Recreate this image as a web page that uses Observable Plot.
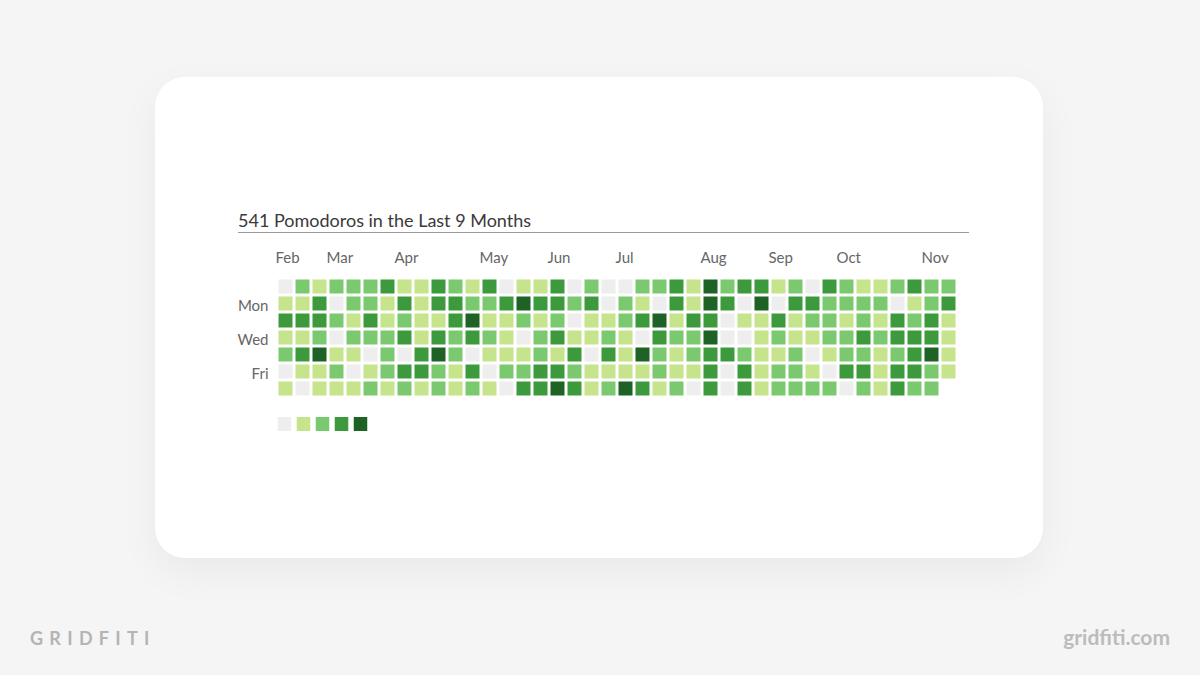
<!DOCTYPE html>
<html>
<head>
<meta charset="utf-8">
<script src="https://cdn.jsdelivr.net/npm/d3@7"></script>
<script src="https://cdn.jsdelivr.net/npm/@observablehq/plot@0.6"></script>
<style>
  html, body { margin: 0; padding: 0; width: 1200px; height: 675px; background: #f5f5f5; overflow: hidden; font-family: Lato, "Open Sans", sans-serif; }
  #card { position: absolute; left: 155px; top: 77px; width: 888px; height: 481px; background: #fff; border-radius: 30px; box-shadow: 0 14px 40px rgba(0,0,0,0.05); }
  #title { position: absolute; left: 238px; top: 211px; font-size: 18px; line-height: 1; color: #3a3a3a; white-space: nowrap; }
  #rule { position: absolute; left: 238px; top: 232px; width: 731px; height: 1px; background: #9a9a9a; }
  #chart { position: absolute; left: 200px; top: 240px; }
  #legend { position: absolute; left: 250px; top: 410px; }
  #brand { position: absolute; left: 30px; top: 629px; font-size: 18px; line-height: 1; font-weight: 700; letter-spacing: 6.3px; color: #b4b4b4; }
  #site { position: absolute; right: 30px; top: 626px; font-size: 21px; line-height: 1; font-weight: 700; color: #bcbcbc; }
</style>
</head>
<body>
<div id="card"></div>
<div id="title">541 Pomodoros in the Last 9 Months</div>
<div id="rule"></div>
<div id="chart"></div>
<div id="legend"></div>
<div id="brand">GRIDFITI</div>
<div id="site">gridfiti.com</div>
<script>
// Activity level (0–4) per week column, rows Sun..Sat
const weekLevels = [
  [0,1,3,1,2,0,1],
  [2,1,3,1,3,1,0],
  [1,3,3,2,4,1,1],
  [2,0,2,0,1,2,1],
  [2,2,1,2,1,0,1],
  [2,2,3,2,0,1,2],
  [3,1,1,2,2,2,1],
  [1,3,2,3,0,3,2],
  [1,1,1,1,3,3,1],
  [3,3,1,3,4,2,2],
  [2,3,3,2,2,1,1],
  [1,2,4,3,0,3,2],
  [3,2,1,2,1,0,1],
  [0,3,1,1,1,2,0],
  [1,4,2,0,1,2,3],
  [1,3,1,2,2,3,3],
  [3,3,2,3,1,3,4],
  [0,2,0,1,3,2,3],
  [2,3,1,1,0,1,1],
  [0,0,1,2,3,1,2],
  [0,2,2,1,1,1,4],
  [2,1,3,0,4,1,3],
  [2,0,4,3,2,2,1],
  [3,3,1,2,1,1,2],
  [1,1,3,2,2,1,0],
  [4,4,3,4,3,3,3],
  [2,3,0,0,3,0,0],
  [3,0,1,0,2,3,3],
  [3,4,1,1,1,1,1],
  [1,0,3,2,1,2,2],
  [2,3,1,1,2,2,2],
  [0,3,2,1,0,1,2],
  [3,2,2,2,1,0,2],
  [2,2,1,2,2,3,0],
  [1,2,2,3,2,3,2],
  [1,2,1,2,1,1,1],
  [2,0,3,3,2,3,3],
  [3,1,2,3,3,3,2],
  [2,2,3,3,4,2,2],
  [2,3,1,1,1,1,null]
];
const monthLabels = ["Feb","Mar","Apr","May","Jun","Jul","Aug","Sep","Oct","Nov"];
const monthStartWeeks = [0,3,7,12,16,20,25,29,33,38];
const dayLabels = ["Mon","Wed","Fri"];
const dayRows = [1,3,5];
const levelDomain = [0,1,2,3,4];
const levelColors = ["#eeeeee","#c6e48b","#7bc96f","#3d9a3c","#1f6226"];

const cells = [];
weekLevels.forEach((col, w) => col.forEach((lv, d) => {
  if (lv !== null) cells.push({week: w, day: d, level: lv});
}));
const monthAt = new Map(monthStartWeeks.map((w, i) => [w, monthLabels[i]]));
const dayAt = new Map(dayRows.map((d, i) => [d, dayLabels[i]]));

const chart = Plot.plot({
  width: 780,
  height: 160,
  marginLeft: 75.5,
  marginRight: 22.5,
  marginTop: 37.5,
  marginBottom: 3.5,
  style: {fontFamily: "Lato, 'Open Sans', sans-serif", fontSize: "15px", color: "#666", background: "transparent", overflow: "visible"},
  x: {type: "band", domain: d3.range(weekLevels.length), padding: 0, axis: null},
  y: {type: "band", domain: d3.range(7), padding: 0, axis: null},
  color: {type: "ordinal", domain: levelDomain, range: levelColors},
  marks: [
    Plot.cell(cells, {x: "week", y: "day", fill: "level", inset: 1.5}),
    Plot.axisX(monthStartWeeks, {anchor: "top", label: null, tickSize: 0, tickPadding: 15, tickFormat: w => monthAt.get(w), textAnchor: "start", dx: -10.5}),
    Plot.axisY(dayRows, {anchor: "left", label: null, tickSize: 0, tickPadding: 7.5, tickFormat: d => dayAt.get(d), dy: 2})
  ]
});
document.getElementById("chart").appendChild(chart);

const legend = Plot.plot({
  width: 140,
  height: 30,
  marginLeft: 23.25,
  marginRight: 19.25,
  marginTop: 7,
  marginBottom: 9,
  style: {background: "transparent"},
  x: {type: "band", domain: levelDomain, padding: 0, axis: null},
  color: {type: "ordinal", domain: levelDomain, range: levelColors},
  marks: [
    Plot.cell(levelDomain, {x: d => d, fill: d => d, insetLeft: 2.75, insetRight: 2.75})
  ]
});
document.getElementById("legend").appendChild(legend);
</script>
</body>
</html>
